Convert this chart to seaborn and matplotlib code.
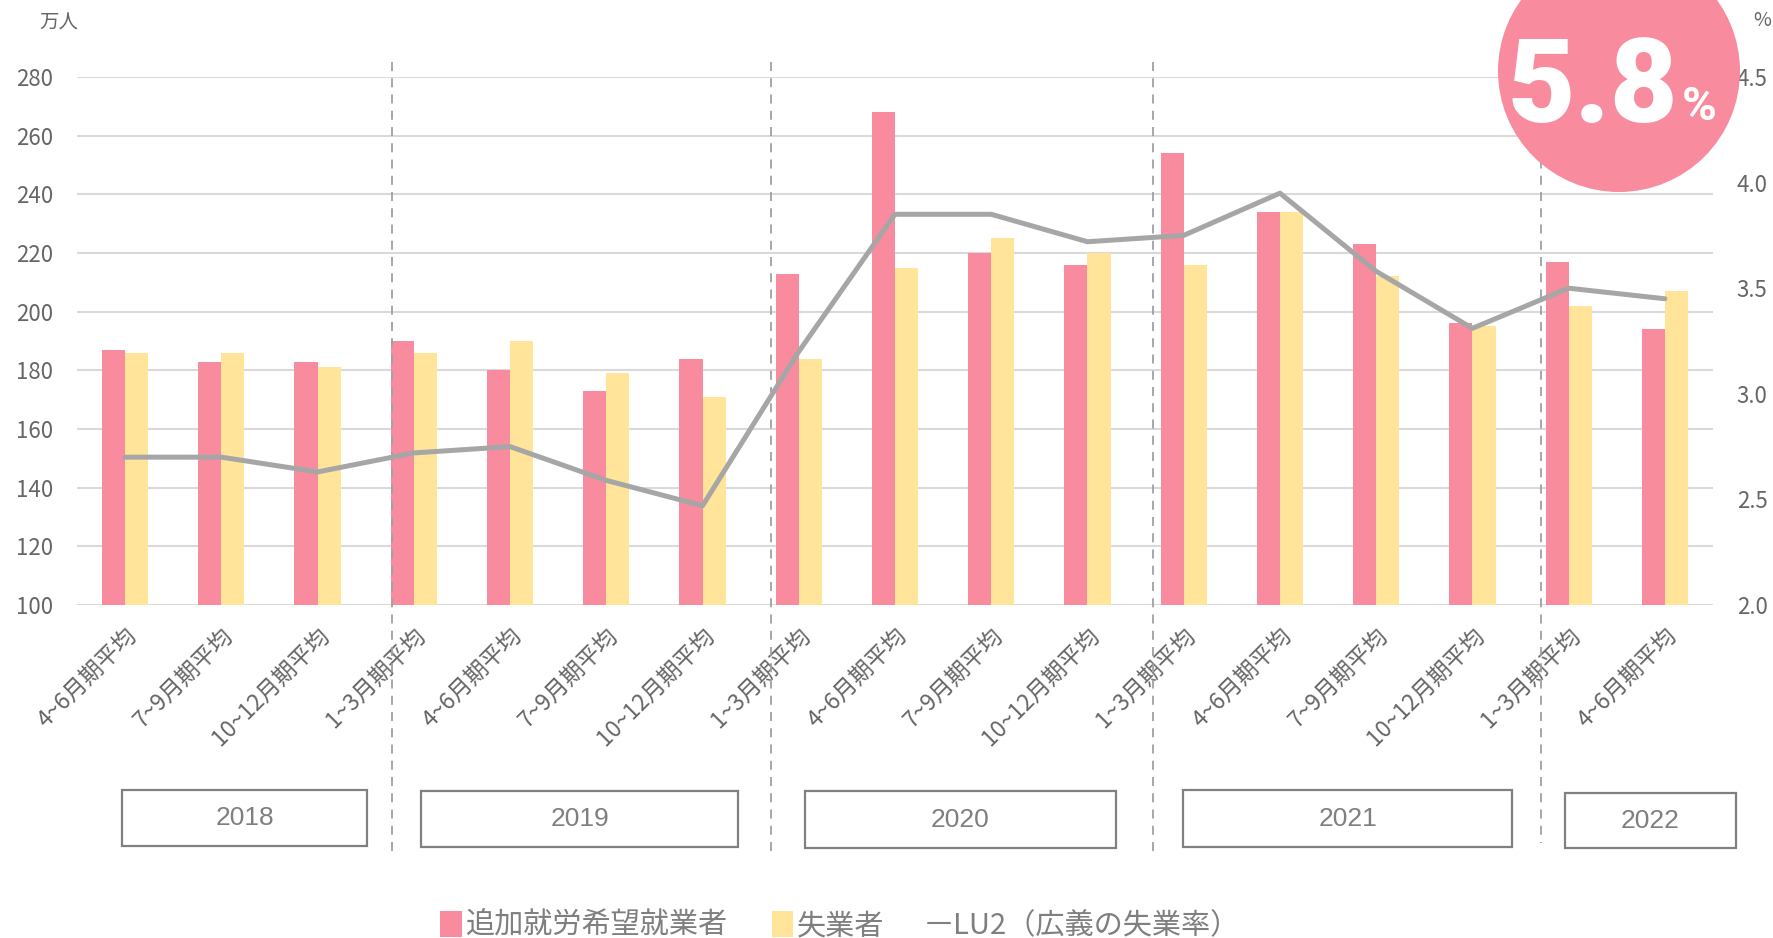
import numpy as np
import pandas as pd
import matplotlib
matplotlib.use('Agg')
import matplotlib.pyplot as plt
import seaborn as sns
from matplotlib.patches import Circle, Rectangle, Patch
from matplotlib.lines import Line2D

# data
periods = ['4~6月期平均', '7~9月期平均', '10~12月期平均',
           '1~3月期平均', '4~6月期平均', '7~9月期平均', '10~12月期平均',
           '1~3月期平均', '4~6月期平均', '7~9月期平均', '10~12月期平均',
           '1~3月期平均', '4~6月期平均', '7~9月期平均', '10~12月期平均',
           '1~3月期平均', '4~6月期平均']
years = ['2018', '2019', '2020', '2021', '2022']
extra_workers = [187, 183, 183, 190, 180, 173, 184, 213, 268, 220, 216,
                 254, 234, 223, 196, 217, 194]
unemployed = [186, 186, 181, 186, 190, 179, 171, 184, 215, 225, 220,
              216, 234, 212, 195, 202, 207]
lu2 = [2.70, 2.70, 2.63, 2.72, 2.75, 2.59, 2.47, 3.20, 3.85, 3.85, 3.72,
       3.75, 3.95, 3.58, 3.31, 3.50, 3.45]
series_names = ['追加就労希望就業者', '失業者', 'LU2（広義の失業率）']
highlight = '5.8'

PINK = '#F88B9E'
YELLOW = '#FFE499'
LINE = '#A6A6A6'
TXT = '#666666'

sns.set_theme(style='white')
plt.rcParams['font.family'] = ['Noto Sans CJK JP', 'DejaVu Sans']

W, H = 1773, 938
fig = plt.figure(figsize=(W / 100, H / 100), dpi=100)
ax = fig.add_axes([77 / W, 1 - 605 / H, (1713 - 77) / W, (605 - 77) / H])

n = len(periods)
df = pd.DataFrame({
    'idx': list(range(n)) * 2,
    'value': extra_workers + unemployed,
    'series': [series_names[0]] * n + [series_names[1]] * n,
})
sns.barplot(data=df, x='idx', y='value', hue='series', palette=[PINK, YELLOW],
            width=0.48, saturation=1, linewidth=0, legend=False, ax=ax)

ax.set_ylim(100, 280)
ax.set_yticks(range(100, 281, 20))
ax.set_xlim(-0.5, n - 0.5)
ax.set_xlabel('')
ax.set_ylabel('')
ax.grid(axis='y', color='#D9D9D9', linewidth=1.5)
ax.set_axisbelow(True)
for s in ax.spines.values():
    s.set_visible(False)
ax.tick_params(axis='y', length=0, pad=17, labelsize=16, labelcolor=TXT)
ax.set_xticks(range(n))
ax.set_xticklabels(periods, rotation=45, ha='right', va='top',
                   rotation_mode='anchor', fontsize=16.5, color=TXT)
ax.tick_params(axis='x', length=0, pad=14)

ax2 = ax.twinx()
sns.lineplot(x=np.arange(n), y=lu2, color=LINE, linewidth=3.6, ax=ax2,
             solid_capstyle='round')
ax2.set_ylim(2.0, 4.5)
ax2.set_yticks(np.arange(2.0, 4.51, 0.5))
ax2.set_yticklabels([f'{v:.1f}' for v in np.arange(2.0, 4.51, 0.5)])
ax2.tick_params(axis='y', length=0, pad=17, labelsize=16, labelcolor=TXT)
for s in ax2.spines.values():
    s.set_visible(False)
ax2.grid(False)

# year separators
trans = matplotlib.transforms.blended_transform_factory(ax.transData, ax.transAxes)
for xs, yb in [(2.77, -0.475), (6.71, -0.475), (10.68, -0.475), (14.71, -0.45)]:
    ax.plot([xs, xs], [1.028, yb], transform=trans, color='#A0A0A0',
            linewidth=1.3, linestyle=(0, (5, 4)), clip_on=False, zorder=1)

# year boxes
boxes = [(122, 367, 790, 846), (421, 738, 791, 847), (805, 1116, 791, 848),
         (1183, 1512, 790, 847), (1565, 1736, 793, 848)]
for yr, (x0, x1, y0, y1) in zip(years, boxes):
    fig.add_artist(Rectangle((x0 / W, 1 - y1 / H), (x1 - x0) / W, (y1 - y0) / H,
                             transform=fig.transFigure, fill=False,
                             edgecolor='#808080', linewidth=1.6))
    fig.text((x0 + x1) / 2 / W, 1 - (y0 + y1) / 2 / H, yr, ha='center',
             va='center', fontsize=19, color='#7F7F7F', family='Liberation Sans')

fig.text(59 / W, 1 - 23 / H, '万人', ha='center', va='center', fontsize=14, color=TXT)
fig.text(1762 / W, 1 - 20 / H, '%', ha='center', va='center', fontsize=14, color=TXT)

# legend
handles = [Patch(facecolor=PINK, edgecolor='none'),
           Patch(facecolor=YELLOW, edgecolor='none'),
           Line2D([0], [0], color='#808080', linewidth=1.5)]
fig.legend(handles, series_names, loc='center', bbox_to_anchor=(840 / W, 1 - 926 / H),
           ncol=3, frameon=False, fontsize=21, handlelength=0.75, handleheight=1.0,
           handletextpad=0.12, columnspacing=1.5, labelcolor='#7F7F7F')

# highlight badge
fig.add_artist(Circle((16.19, (H - 71) / 100), 1.21, transform=fig.dpi_scale_trans,
                      facecolor=PINK, edgecolor='none', zorder=5))
fig.text(1678 / W, 1 - 122 / H, highlight, ha='right', va='baseline', fontsize=84,
         fontweight='black', family='Roboto', color='white', zorder=6)
fig.text(1682 / W, 1 - 120 / H, '%', ha='left', va='baseline', fontsize=34,
         fontweight='bold', family='Roboto', color='white', zorder=6)

fig.savefig('out.png', dpi=100)
